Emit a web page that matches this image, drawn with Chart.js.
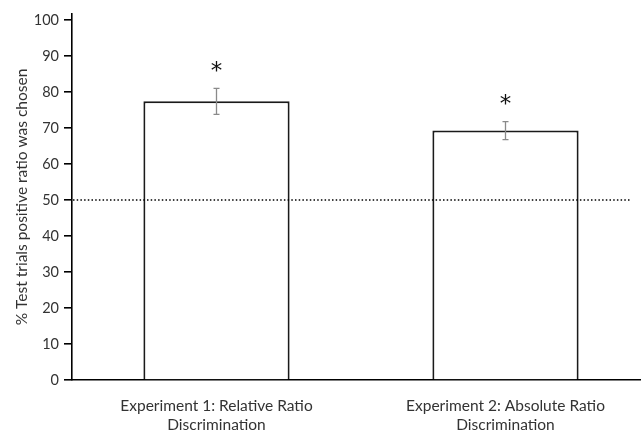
<!DOCTYPE html>
<html>
<head>
<meta charset="utf-8">
<script src="https://cdn.jsdelivr.net/npm/chart.js@4/dist/chart.umd.min.js"></script>
<style>
html,body{margin:0;padding:0;background:#fff;overflow:hidden;}
#wrap{width:641px;height:435px;overflow:hidden;position:relative;}
canvas{display:block;}
</style>
</head>
<body>
<div id="wrap"><canvas id="c" width="650" height="435"></canvas></div>
<script>
// ---- data ----
const categories = [
  ["Experiment 1: Relative Ratio", "Discrimination"],
  ["Experiment 2: Absolute Ratio", "Discrimination"]
];
const percentChosen = [77.4, 69.3];
const errorSize = [3.6, 2.5];
const significance = ["*", "*"];
const chanceLevel = 50;
const yTicks = [0, 10, 20, 30, 40, 50, 60, 70, 80, 90, 100];

const FONT = "Lato, 'Open Sans', sans-serif";
const TEXT = "#333333";

const overlay = {
  id: "overlay",
  afterDatasetsDraw(chart) {
    const {ctx, scales: {x, y}, chartArea} = chart;
    ctx.save();
    // chance line
    const yc = y.getPixelForValue(chanceLevel);
    ctx.strokeStyle = "#000";
    ctx.lineWidth = 1.5;
    ctx.setLineDash([1.5, 2.2]);
    ctx.beginPath();
    ctx.moveTo(chartArea.left + 1, yc);
    ctx.lineTo(630, yc);
    ctx.stroke();
    ctx.setLineDash([]);
    // error bars + asterisks
    percentChosen.forEach((v, i) => {
      const cx = x.getPixelForValue(i);
      const top = y.getPixelForValue(v + errorSize[i]);
      const bot = y.getPixelForValue(v - errorSize[i]);
      ctx.strokeStyle = "#8a8a8a";
      ctx.lineWidth = 1.3;
      ctx.beginPath();
      ctx.moveTo(cx, top); ctx.lineTo(cx, bot);
      ctx.moveTo(cx - 3, top); ctx.lineTo(cx + 3, top);
      ctx.moveTo(cx - 3, bot); ctx.lineTo(cx + 3, bot);
      ctx.stroke();
      ctx.fillStyle = "#111";
      ctx.font = "23px 'DejaVu Sans', sans-serif";
      ctx.textAlign = "center";
      ctx.textBaseline = "middle";
      ctx.fillText(significance[i], cx, top - 16);
    });
    ctx.restore();
  }
};

new Chart(document.getElementById("c"), {
  type: "bar",
  data: {
    labels: categories,
    datasets: [{
      data: percentChosen,
      backgroundColor: "#ffffff",
      borderColor: "#1a1a1a",
      borderWidth: 2,
      borderSkipped: "bottom",
      barPercentage: 0.506,
      categoryPercentage: 1.0
    }]
  },
  options: {
    responsive: false,
    animation: false,
    layout: {padding: {left: 13, right: 0, top: 14, bottom: 0}},
    plugins: {legend: {display: false}, tooltip: {enabled: false}},
    scales: {
      x: {
        offset: true,
        grid: {display: false, drawTicks: false},
        border: {display: true, color: "#000", width: 1.6},
        ticks: {color: TEXT, font: {family: FONT, size: 15.5}, padding: 17, maxRotation: 0, autoSkip: false},
        afterFit(s) { s.height = 55; }
      },
      y: {
        min: 0,
        max: 101.67,
        afterBuildTicks(s) { s.ticks = yTicks.map(v => ({value: v})); },
        grid: {display: true, drawOnChartArea: false, drawTicks: true, tickLength: 8, color: "#000", lineWidth: 1.6},
        border: {display: true, color: "#000", width: 1.6},
        ticks: {color: TEXT, font: {family: FONT, size: 14.5}, padding: 5},
        title: {display: true, text: "% Test trials positive ratio was chosen", color: TEXT, font: {family: FONT, size: 15.5}, padding: {top: 0, bottom: 3}},
        afterFit(s) { s.width = 59; }
      }
    }
  },
  plugins: [overlay]
});
</script>
</body>
</html>
